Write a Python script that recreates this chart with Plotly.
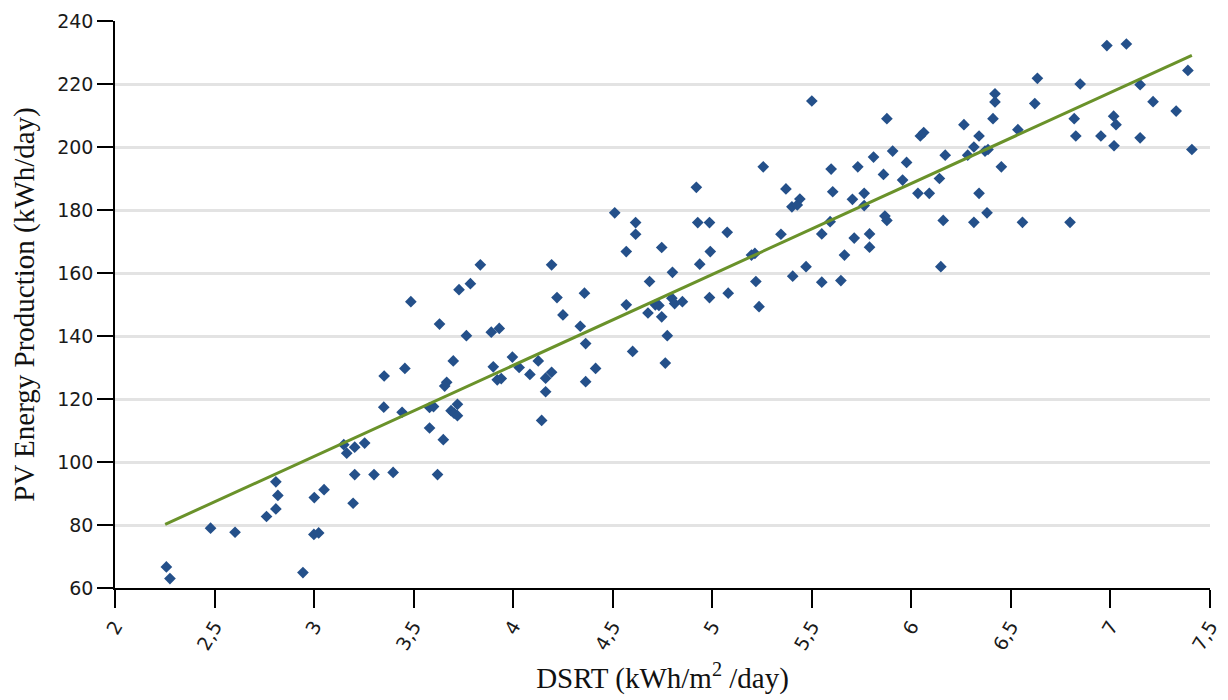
import plotly.graph_objects as go

# Measured points: DSRT (kWh/m2/day) vs PV energy production (kWh/day)
dsrt = [2.258, 2.276, 2.48, 2.603, 2.944, 2.761, 2.808, 2.818, 2.808, 3.001,
        3.05, 2.999, 3.023, 3.196, 3.204, 3.301, 3.397, 3.149, 3.164, 3.204,
        3.254, 3.35, 3.442, 3.58, 3.60, 3.58, 3.62, 3.835, 4.193, 3.486,
        3.728, 3.785, 4.22, 4.358, 4.25, 3.63, 3.765, 3.89, 3.93, 4.337,
        4.364, 3.699, 3.996, 4.126, 3.352, 3.456, 3.90, 4.03, 4.414, 4.084,
        4.163, 4.193, 3.666, 3.656, 3.92, 3.94, 4.364, 4.163, 3.688, 3.703,
        3.72, 3.72, 4.143, 3.649, 4.51, 4.615, 4.615, 4.568, 4.746, 4.927,
        4.986, 5.075, 4.99, 4.937, 4.80, 4.685, 5.08, 4.986, 4.797, 4.811,
        4.85, 4.714, 4.732, 4.568, 4.677, 4.746, 4.774, 4.60, 4.764, 5.235,
        5.219, 5.197, 5.214, 5.345, 5.404, 5.40, 5.427, 5.44, 4.92, 5.37,
        5.50, 5.256, 5.55, 5.471, 5.55, 5.646, 5.592, 5.664, 5.713, 5.79,
        5.79, 5.605, 5.597, 5.704, 5.763, 5.763, 5.731, 5.81, 5.86, 5.877,
        5.906, 5.956, 5.976, 5.867, 5.877, 6.033, 6.09, 6.045, 6.062, 6.141,
        6.17, 6.16, 6.148, 6.264, 6.34, 6.314, 6.283, 6.37, 6.385, 6.34,
        6.314, 6.38, 6.41, 6.42, 6.42, 6.452, 6.558, 6.535, 6.62, 6.982,
        7.08, 7.389, 6.848, 6.633, 7.149, 7.214, 7.33, 6.818, 6.826, 7.016,
        7.028, 6.952, 7.149, 7.018, 7.409, 6.797]
pv_energy = [66.7, 63.0, 79.0, 77.7, 64.9, 82.7, 85.1, 89.4, 93.7, 88.7,
             91.2, 77.0, 77.5, 86.9, 96.0, 96.0, 96.7, 105.5, 102.8, 104.7,
             106.0, 117.4, 115.8, 117.3, 117.6, 110.8, 96.0, 162.6, 162.6, 150.9,
             154.7, 156.6, 152.2, 153.6, 146.7, 143.8, 140.1, 141.2, 142.4, 143.1,
             137.6, 132.1, 133.3, 132.1, 127.3, 129.7, 130.2, 130.0, 129.7, 127.8,
             126.6, 128.5, 125.3, 124.1, 126.1, 126.5, 125.5, 122.3, 116.3, 115.5,
             114.7, 118.3, 113.2, 107.1, 179.1, 176.0, 172.3, 166.8, 168.1, 176.0,
             176.0, 172.9, 166.8, 162.8, 160.2, 157.3, 153.6, 152.2, 152.0, 150.3,
             150.9, 149.9, 149.7, 149.9, 147.3, 146.1, 140.1, 135.1, 131.4, 149.3,
             157.3, 165.7, 166.2, 172.3, 159.0, 181.0, 181.6, 183.5, 187.2, 186.7,
             214.6, 193.7, 172.4, 162.0, 157.1, 157.6, 176.3, 165.7, 171.1, 172.4,
             168.2, 185.8, 193.0, 183.4, 185.3, 181.4, 193.7, 196.8, 191.3, 209.0,
             198.7, 189.5, 195.1, 178.1, 176.7, 185.3, 185.3, 203.5, 204.6, 190.0,
             197.4, 176.7, 162.0, 207.1, 203.5, 200.0, 197.4, 198.7, 199.2, 185.3,
             176.1, 179.1, 209.0, 216.9, 214.3, 193.7, 176.1, 205.5, 213.8, 232.2,
             232.7, 224.3, 220.0, 221.8, 219.8, 214.4, 211.4, 209.0, 203.5, 209.8,
             207.1, 203.5, 202.9, 200.4, 199.2, 176.1]

# Linear trend line endpoints
trend_x = [2.252, 7.409]
trend_y = [80.2, 229.1]

x_ticks = [2, 2.5, 3, 3.5, 4, 4.5, 5, 5.5, 6, 6.5, 7, 7.5]
y_ticks = [60, 80, 100, 120, 140, 160, 180, 200, 220, 240]

fig = go.Figure()
fig.add_trace(go.Scatter(
    x=dsrt, y=pv_energy, mode="markers",
    marker=dict(symbol="diamond", size=9, color="#24508a",
                line=dict(width=0)),
    showlegend=False, hoverinfo="x+y"))
fig.add_trace(go.Scatter(
    x=trend_x, y=trend_y, mode="lines",
    line=dict(color="#6a922a", width=3),
    showlegend=False, hoverinfo="skip"))

serif = "Liberation Serif, Times New Roman, serif"
sans = "DejaVu Sans, Verdana, sans-serif"

fig.update_layout(
    width=1228, height=700,
    margin=dict(l=107, r=26, t=13, b=120),
    paper_bgcolor="white", plot_bgcolor="white",
    separators=", ",
    xaxis=dict(
        range=[2, 7.5], tickvals=x_ticks, tickangle=-60,
        automargin=False,
        showgrid=False, zeroline=False,
        showline=True, linecolor="black", linewidth=1.5,
        ticks="outside", ticklen=18, tickcolor="black", tickwidth=1.5,
        tickfont=dict(family=sans, size=19, color="#1a1a1a"),
        title=dict(text="DSRT (kWh/m<sup>2</sup> /day)",
                   font=dict(family=serif, size=29, color="#111")),
    ),
    yaxis=dict(
        range=[60, 240], tickvals=y_ticks,
        automargin=False,
        showgrid=True, gridcolor="#e3e3e3", gridwidth=3,
        zeroline=False,
        showline=True, linecolor="black", linewidth=1.5,
        ticks="outside", ticklen=16, tickcolor="black", tickwidth=1.5,
        tickfont=dict(family=sans, size=19, color="#1a1a1a"),
        title=dict(text="PV Energy Production (kWh/day)",
                   font=dict(family=serif, size=29, color="#111")),
    ),
)

fig.write_html("out.html")
